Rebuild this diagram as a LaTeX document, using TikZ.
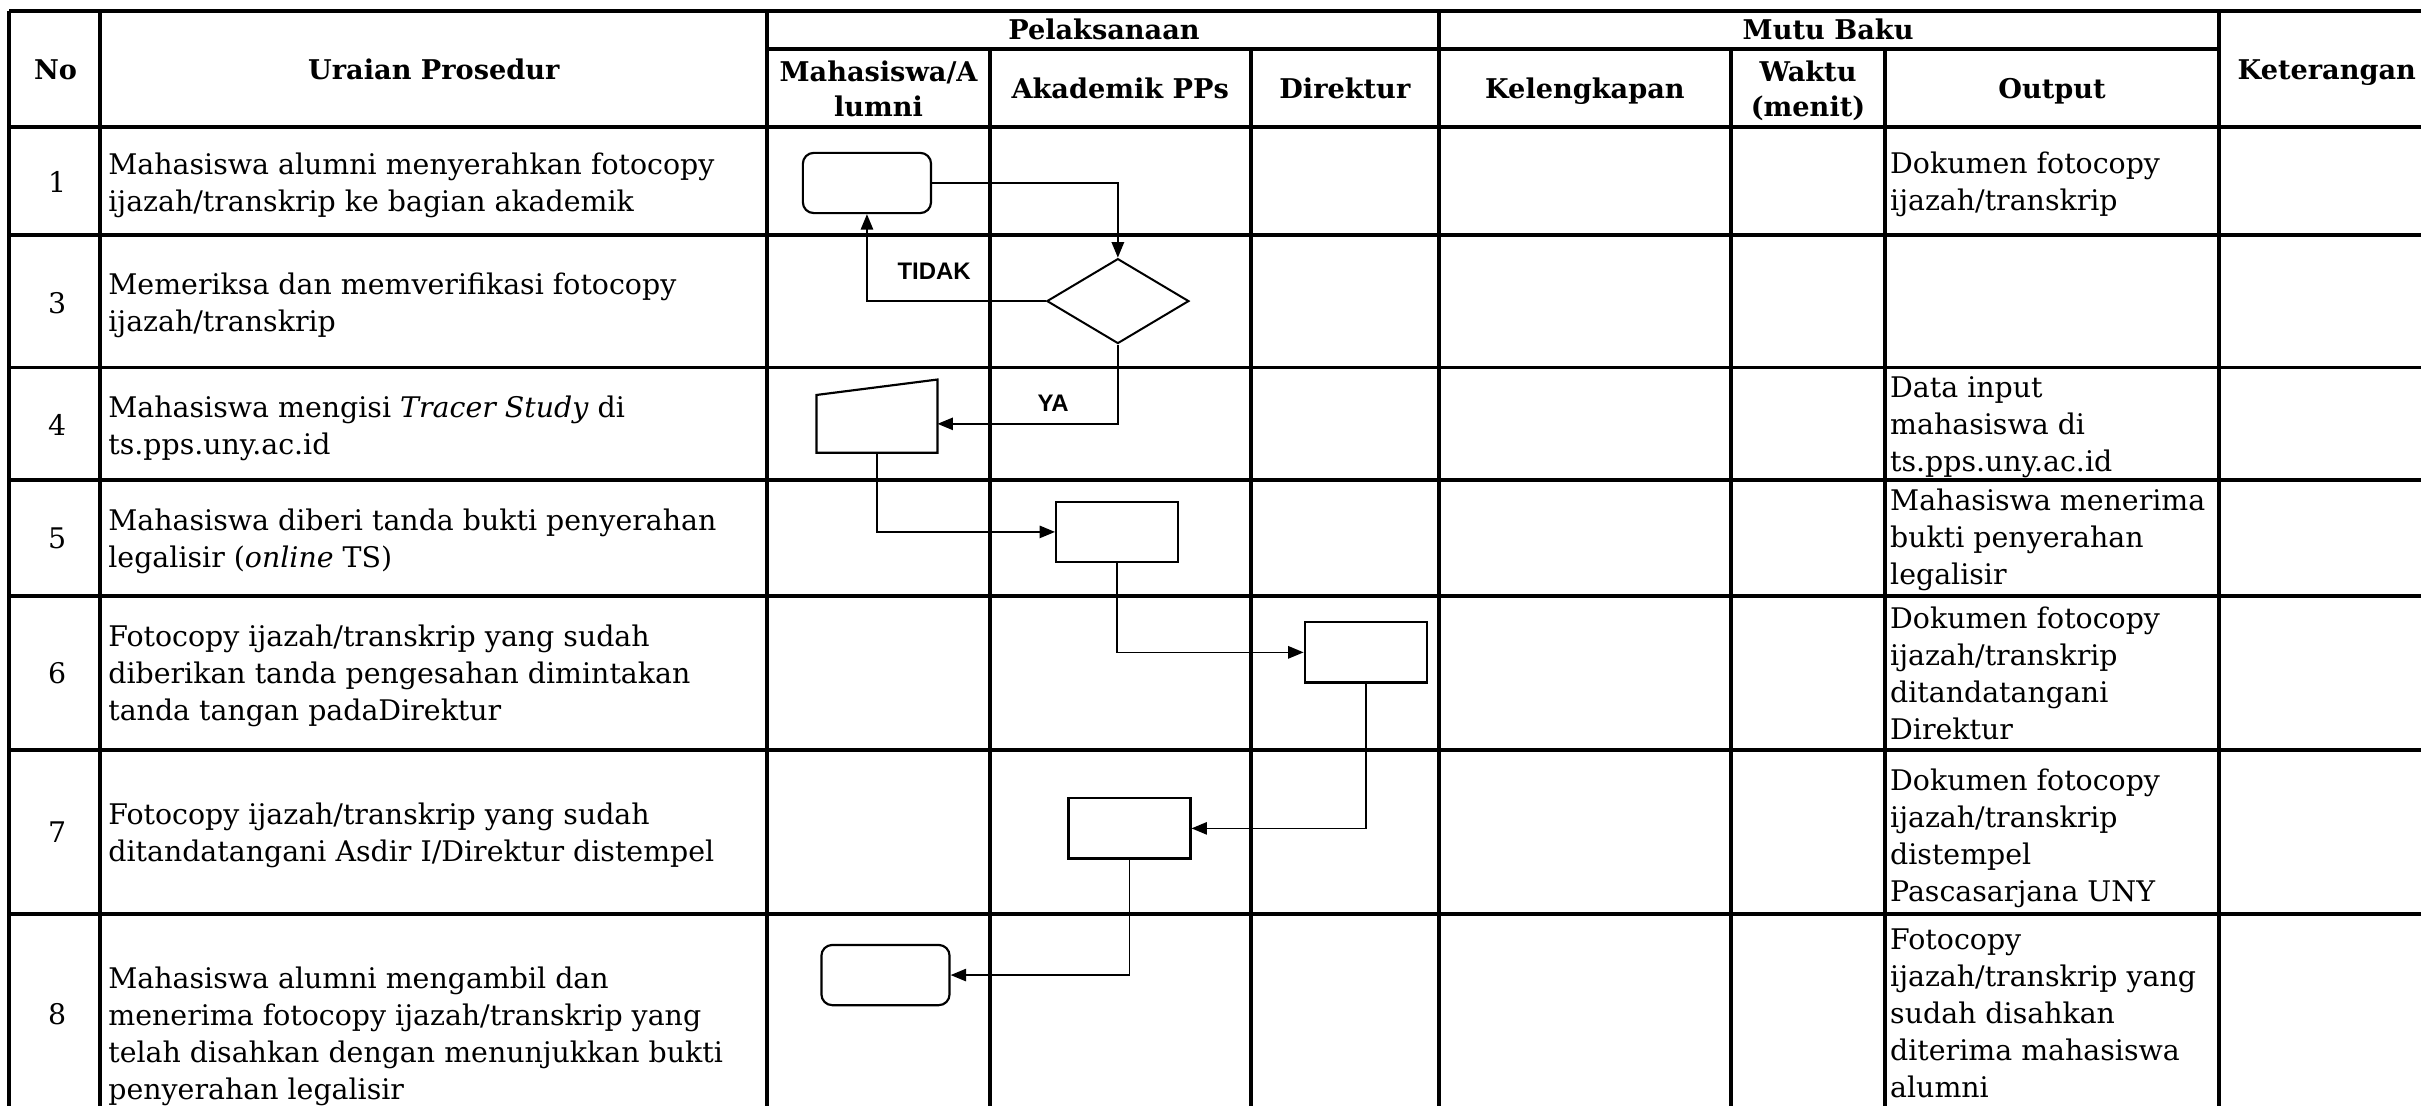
\documentclass[tikz,border=0pt]{standalone}
\usepackage{fontspec}
\setmainfont{DejaVu Serif}
\newfontfamily\lblfont{Liberation Sans}
\usetikzlibrary{arrows.meta,shapes.geometric,calc}
\begin{document}
\begin{tikzpicture}[x=1pt,y=-1pt,
  gridline/.style={line width=2.5pt},
  body/.style={font=\fontsize{18.4}{24}\selectfont, align=left, inner sep=0pt, anchor=west,
    execute at begin node=\strut, execute at end node=\strut},
  num/.style={font=\fontsize{18.4}{24}\selectfont, inner sep=0pt,
    execute at begin node=\strut},
  head/.style={font=\fontsize{17.6}{23}\selectfont\bfseries, align=center, inner sep=0pt,
    execute at begin node=\strut, execute at end node=\strut},
  proc/.style={draw, line width=1.4pt, minimum width=79pt, minimum height=39pt, inner sep=0pt},
  term/.style={proc, rounded corners=7pt, minimum width=83pt},
  dec/.style={draw, diamond, line width=1.3pt, minimum width=92pt, minimum height=55pt, inner sep=0pt},
  inp/.style={minimum width=78pt, minimum height=37pt, inner sep=0pt},
  flow/.style={line width=1.1pt, -{Triangle[length=10pt,width=8pt]}},
  yn/.style={font=\lblfont\bfseries\fontsize{15.5}{18}\selectfont, inner sep=0pt},
]
\useasboundingbox (0,0) rectangle (1568,716);
\fill[white] (0,0) rectangle (1568,716);
\clip (0,0) rectangle (1568,716);

% ---------- table grid ----------
\draw[gridline]
  (6,7) -- (1580,7)
  (497,32) -- (1437,32)
  (6,82) -- (1580,82)
  (6,152) -- (1580,152)
  (6,238) -- (1580,238)
  (6,311) -- (1580,311)
  (6,386) -- (1580,386)
  (6,486) -- (1580,486)
  (6,592) -- (1580,592);
\draw[gridline]
  (6,7) -- (6,730)
  (65,7) -- (65,730)
  (497,7) -- (497,730)
  (641,32) -- (641,730)
  (810,32) -- (810,730)
  (932,7) -- (932,730)
  (1121,32) -- (1121,730)
  (1221,32) -- (1221,730)
  (1437,7) -- (1437,730)
  (1577,7) -- (1577,730);

% ---------- header ----------
\node[head] (hno) at (36,47) {No};
\node[head] (hur) at (281,47) {Uraian Prosedur};
\node[head] (hpel) at (715,21) {Pelaksanaan};
\node[head] (hmb) at (1184,21) {Mutu Baku};
\node[head] (hmhs) at (569,61) {Mahasiswa/A\\lumni};
\node[head] (hak) at (725.5,59.5) {Akademik PPs};
\node[head] (hdir) at (871,59.5) {Direktur};
\node[head] (hkel) at (1026.5,59.5) {Kelengkapan};
\node[head] (hwak) at (1171,61) {Waktu\\(menit)};
\node[head] (hout) at (1329,59.5) {Output};
\node[head] (hket) at (1507,47) {Keterangan};

% ---------- numbers ----------
\node[num] (n1) at (37,120) {1};
\node[num] (n3) at (37,198) {3};
\node[num] (n4) at (37,277) {4};
\node[num] (n5) at (37,350.5) {5};
\node[num] (n6) at (37,438) {6};
\node[num] (n7) at (37,541) {7};
\node[num] (n8) at (37,659) {8};

% ---------- procedure texts ----------
\node[body] (u1) at (70,121.5) {Mahasiswa alumni menyerahkan fotocopy\\ijazah/transkrip ke bagian akademik};
\node[body] (u3) at (70,199.5) {Memeriksa dan memverifikasi fotocopy\\ijazah/transkrip};
\node[body] (u4) at (70,279) {Mahasiswa mengisi \textit{Tracer Study} di\\ts.pps.uny.ac.id};
\node[body] (u5) at (70,352) {Mahasiswa diberi tanda bukti penyerahan\\legalisir (\textit{online} TS)};
\node[body] (u6) at (70,439.5) {Fotocopy ijazah/transkrip yang sudah\\diberikan tanda pengesahan dimintakan\\tanda tangan padaDirektur};
\node[body] (u7) at (70,542.5) {Fotocopy ijazah/transkrip yang sudah\\ditandatangani Asdir I/Direktur distempel};
\node[body] (u8) at (70,672.5) {Mahasiswa alumni mengambil dan\\menerima fotocopy ijazah/transkrip yang\\telah disahkan dengan menunjukkan bukti\\penyerahan legalisir};

% ---------- output texts ----------
\node[body] (o1) at (1224,121) {Dokumen fotocopy\\ijazah/transkrip};
\node[body] (o4) at (1224,278.5) {Data input\\mahasiswa di\\ts.pps.uny.ac.id};
\node[body] (o5) at (1224,351) {Mahasiswa menerima\\bukti penyerahan\\legalisir};
\node[body] (o6) at (1224,439.5) {Dokumen fotocopy\\ijazah/transkrip\\ditandatangani\\Direktur};
\node[body] (o7) at (1224,544.5) {Dokumen fotocopy\\ijazah/transkrip\\distempel\\Pascasarjana UNY};
\node[body] (o8) at (1224,660) {Fotocopy\\ijazah/transkrip yang\\sudah disahkan\\diterima mahasiswa\\alumni};

% ---------- flowchart ----------
\node[term] (t1) at (561.5,118.5) {};
\node[dec] (d1) at (724,195) {};
\node[inp] (m1) at (568,274.5) {};
\draw[line width=1.4pt] (m1.south west) -- (m1.south east) -- ($(m1.north east)+(0,-10)$) -- (m1.north west) -- cycle;
\node[proc] (r5) at (723.5,344.5) {};
\node[proc] (r6) at (884.5,422.5) {};
\node[proc] (r7) at (731.5,536.5) {};
\node[term] (t8) at (573.5,631.5) {};

\draw[flow] (t1.east) -| (d1.north);
\draw[flow] (d1.west) -| (t1.south);
\draw[flow] (d1.south) |- (m1.east);
\draw[flow] (m1.south) |- (r5.west);
\draw[flow] (r5.south) |- (r6.west);
\draw[flow] (r6.south) |- (r7.east);
\draw[flow] (r7.south) |- (t8.east);

\node[yn] (ltidak) at (605,176) {TIDAK};
\node[yn] (lya) at (682,261) {YA};
\end{tikzpicture}
\end{document}
